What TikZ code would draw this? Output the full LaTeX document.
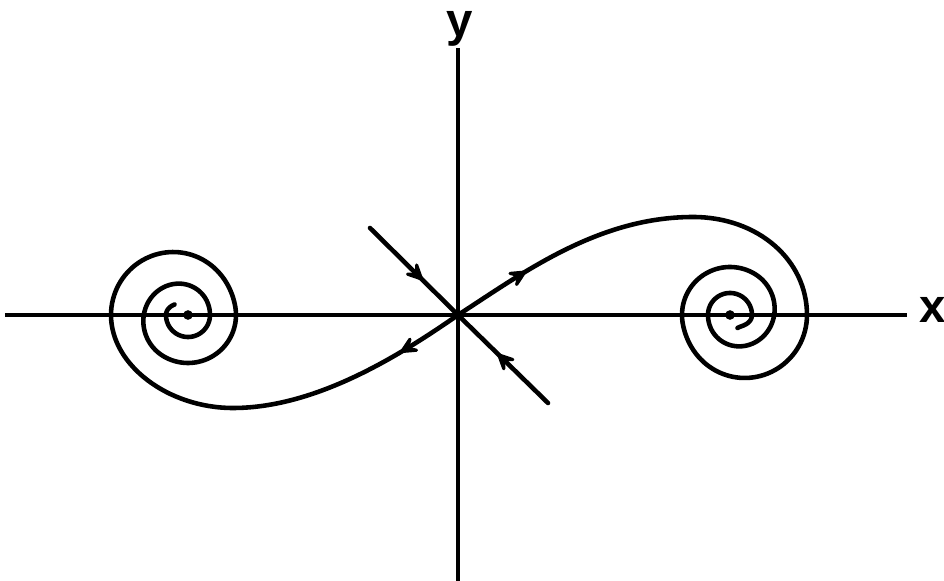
\documentclass[tikz,border=0pt]{standalone}
\usepackage{fontspec}
\setsansfont{Liberation Sans}
\usetikzlibrary{arrows.meta,decorations.markings}

\tikzset{
  axis/.style={line width=1.9pt},
  orbit/.style={line width=2.6pt,line cap=round,line join=round},
  midarrow/.style={postaction={decorate},decoration={markings,
    mark=at position #1 with {\arrow{Stealth[length=5mm,width=4.8mm,inset=2.5mm,round]}}}},
  fixedpt/.style={circle,fill,inner sep=0pt,minimum size=5.5pt},
  axislabel/.style={font=\fontsize{27}{30}\selectfont\sffamily\bfseries}
}

\begin{document}
\begin{tikzpicture}[x=0.02cm,y=0.02cm,
    declare function={unit01(\u)=min(max(\u,0),1);
      fade(\u)=0.5*(1+cos(180*unit01(\u)));
      spr(\t)=22+26*fade((\t-300)/240)+29*fade(\t/170)-7*(1-fade((\t-720)/60));}]
  \useasboundingbox (-458,-266) rectangle (486,315);
  \coordinate (O) at (0,0);
  \coordinate (CL) at (-270,0);
  \coordinate (CR) at (272,0);
  \coordinate (S1) at (-88,87);
  \coordinate (S2) at (90,-88);
  \draw[axis] (-453,0) -- (449,0);
  \draw[axis] (0,-266) -- (0,267);
  \node[axislabel,anchor=base] (xlab) at (475,-8) {x};
  \node[axislabel,anchor=base] (ylab) at (2,278) {y};
  \draw[orbit,midarrow=0.6] (S1) -- (O);
  \draw[orbit,midarrow=0.56] (S2) -- (O);
  \draw[orbit,midarrow=0.19] (O) .. controls (65,42) and (140,98) .. (235,98)
    .. controls (300,98) and (349,55) .. (349,0);
  \draw[orbit,midarrow=0.165] (O) .. controls (-55,-38) and (-140,-93) .. (-225,-93)
    .. controls (-290,-93) and (-347,-50) .. (-347,0);
  \begin{scope}[shift={(CR)}]
    \draw[orbit] plot[domain=0:780,samples=260,variable=\t] ({-\t}:{spr(\t)});
  \end{scope}
  \begin{scope}[shift={(CL)}]
    \draw[orbit] plot[domain=0:758,samples=260,variable=\t] ({180-\t}:{spr(\t)});
  \end{scope}
  \node[fixedpt] (po) at (O) {};
  \node[fixedpt] (pl) at (CL) {};
  \node[fixedpt] (pr) at (CR) {};
\end{tikzpicture}
\end{document}
